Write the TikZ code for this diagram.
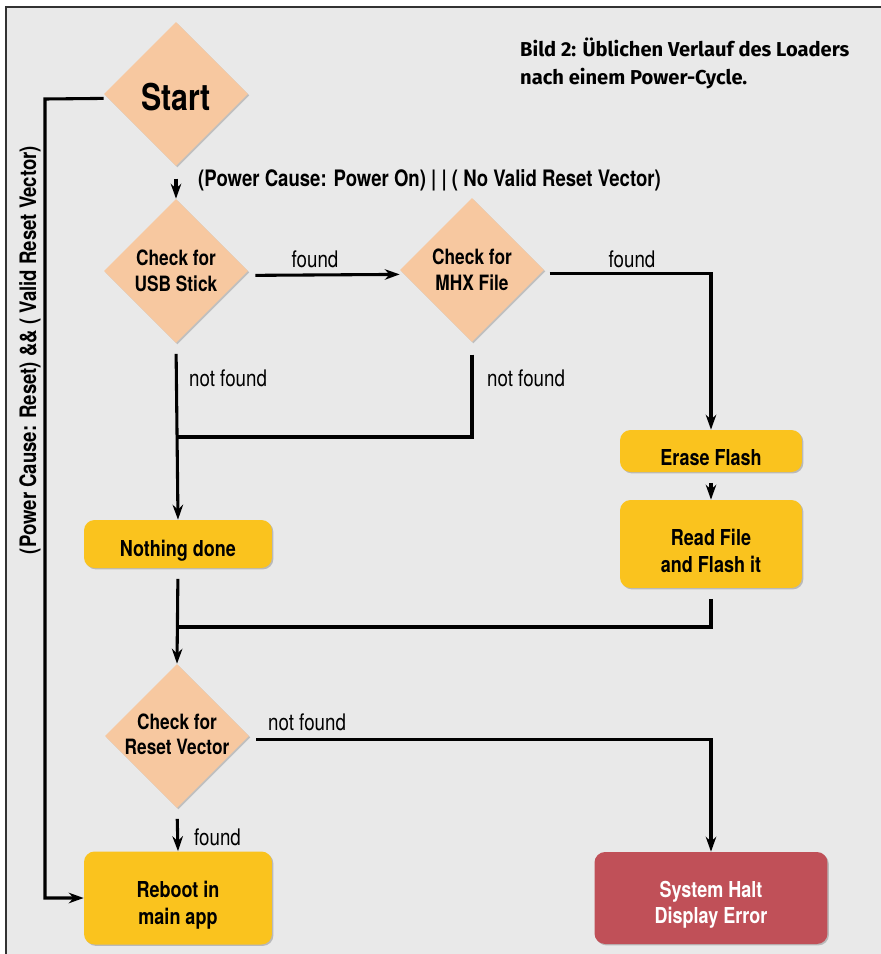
\documentclass[tikz,border=0pt]{standalone}
\usepackage{fontspec}
\usepackage{xcolor}
\usetikzlibrary{shapes,arrows,positioning,calc,shadows,arrows.meta}
\newfontfamily\condfont{TeX Gyre Heros}[FakeStretch=0.82]
\newfontfamily\captionfont{Fira Sans}
\definecolor{panelgray}{RGB}{233,233,233}
\definecolor{framegray}{RGB}{50,50,50}
\definecolor{decisionpeach}{RGB}{247,200,160}
\definecolor{actionyellow}{RGB}{250,195,30}
\definecolor{haltred}{RGB}{192,80,88}

\begin{document}
\begin{tikzpicture}[x=0.02cm, y=-0.02cm, >={Stealth[length=8.5pt,width=6pt]},
    flow/.style={line width=1.75pt, black},
    decision/.style={diamond, aspect=1, inner sep=0pt, minimum size=2.88cm, fill=decisionpeach,
        drop shadow={shadow xshift=0.8pt, shadow yshift=-0.8pt, opacity=0.4}},
    dtext/.style={font=\condfont\bfseries\fontsize{12}{14.5}\selectfont, align=center},
    atext/.style={font=\condfont\bfseries\fontsize{12.5}{15}\selectfont, align=center, yshift=-4pt},
    action/.style={rectangle, rounded corners=6pt, inner sep=0pt, fill=actionyellow,
        drop shadow={shadow xshift=0.8pt, shadow yshift=-0.8pt, opacity=0.45}},
    cond/.style={font=\condfont\fontsize{13}{15}\selectfont},
    boldcond/.style={font=\condfont\bfseries\fontsize{12.9}{15}\selectfont}]
    \useasboundingbox (0,0) rectangle (881,954);
    % Panel
    \fill[white] (0,0) rectangle (881,954);
    \fill[panelgray] (6,7) rectangle (881,954);
    \draw[framegray, line width=0.8pt] (6,954) -- (6,7) -- (881,7);
    \node[anchor=north west, align=left, font=\captionfont\bfseries\fontsize{11.45}{16}\selectfont]
        (caption) at (514,32) {Bild 2: Üblichen Verlauf des Loaders\\nach einem Power-Cycle.};

    % Decisions
    \node[decision, label={[font=\condfont\bfseries\fontsize{21}{24}\selectfont, yshift=-2pt]center:Start}] (start) at (176,94) {};
    \node[decision, label={[dtext]center:Check for\\USB Stick}] (usb) at (176,271) {};
    \node[decision, label={[dtext]center:Check for\\MHX File}] (mhx) at (472,270) {};
    \node[decision, label={[dtext, yshift=1pt]center:Check for\\Reset Vector}] (reset) at (177,736) {};

    % Actions
    \node[action, minimum width=3.64cm, minimum height=0.84cm, label={[atext]center:Erase Flash}] (erase) at (711,451) {};
    \node[action, minimum width=3.64cm, minimum height=1.76cm, label={[atext]center:Read File\\and Flash it}] (read) at (711,544) {};
    \node[action, minimum width=3.76cm, minimum height=0.96cm, label={[atext]center:Nothing done}] (nothing) at (178,544) {};
    \node[action, minimum width=3.76cm, minimum height=1.86cm, label={[atext]center:Reboot in\\main app}] (reboot) at (178,898) {};
    \node[action, minimum width=4.66cm, minimum height=1.84cm, fill=haltred,
        label={[atext, text=white]center:System Halt\\Display Error}] (halt) at (711,898) {};

    % Junctions
    \coordinate (jleft) at (45,99);
    \coordinate (jusb) at (178,437);
    \coordinate (jread) at (178,627);

    % Connectors
    \draw[flow, ->] ([yshift=-2.5pt]start.west) -- (jleft) |- (reboot.west);
    \draw[flow, ->, shorten <=7pt] (start.south) -- (usb.north);
    \draw[flow, ->, shorten <=4pt] ([yshift=-2.5pt]usb.east) -- ([yshift=-2.5pt]mhx.west);
    \draw[flow, ->, shorten <=3pt] ([yshift=-2pt]mhx.east) -| (erase.north);
    \draw[flow, ->, shorten <=6pt] (usb.south) -- (nothing.north);
    \draw[flow, shorten <=7pt] (mhx.south) |- (jusb);
    \draw[flow, ->, shorten <=6pt] (erase.south) -- (read.north);
    \draw[flow, ->, shorten <=6pt] (nothing.south) -- (reset.north);
    \draw[flow, shorten <=6pt] (read.south) |- (jread);
    \draw[flow, ->, shorten <=4pt] ([yshift=-2pt]reset.east) -| (halt.north);
    \draw[flow, ->, shorten <=6pt] (reset.south) -- (reboot.north);

    % Conditions
    \node[boldcond, anchor=west] (poweron) at (192,180)
        {(Power Cause: Power On) | | ( No Valid Reset Vector)};
    \node[boldcond, rotate=90] (powerreset) at (30,350)
        {(Power Cause: Reset) \&\& ( Valid Reset Vector)};
    \node[cond] (usbfound) at (315,259) {found};
    \node[cond] (mhxfound) at (632,259) {found};
    \node[cond, anchor=west] (usbnot) at (183,378) {not found};
    \node[cond, anchor=west] (mhxnot) at (481,378) {not found};
    \node[cond, anchor=west] (resetnot) at (262,722) {not found};
    \node[cond, anchor=west] (resetfound) at (188,837) {found};
\end{tikzpicture}
\end{document}
